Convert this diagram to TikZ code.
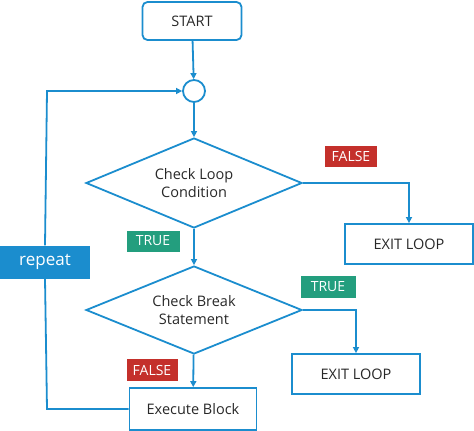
\documentclass[tikz,border=0pt]{standalone}
\usepackage{fontspec}
\setmainfont{Open Sans}
\usetikzlibrary{positioning, shapes.geometric, arrows, arrows.meta}

\definecolor{flowblue}{RGB}{27,141,206}
\definecolor{falsered}{RGB}{196,48,43}
\definecolor{truegreen}{RGB}{35,158,126}
\definecolor{textgray}{RGB}{40,40,40}

\tikzset{
    box/.style = {draw=flowblue, line width=1.8pt, text=textgray, font=\fontsize{14.5}{17.5}\selectfont, inner sep=0pt},
    decision/.style = {box, diamond, aspect=2.4, minimum width=216pt, minimum height=90pt, align=center},
    flag/.style = {text=white, inner sep=0pt, font=\fontsize{14}{16}\selectfont},
    line/.style = {draw=flowblue, line width=1.8pt},
}

\begin{document}
\begin{tikzpicture}[x=1pt, y=-1pt, >={Triangle[length=6pt, width=6pt]}]
    \useasboundingbox (0,0) rectangle (474,431);
    \node [box, rounded corners=5pt, minimum width=99pt, minimum height=38pt] (start) at (192,21) {START};
    \node [box, circle, minimum size=22pt] (join) at (194,91) {};
    \node [decision] (loopcond) at (194,183) {Check Loop\\Condition};
    \node [decision, minimum height=88pt] (breakcond) at (194,310) {Check Break\\Statement};
    \node [box, minimum width=128pt, minimum height=40pt] (exitA) at (409,244) {EXIT LOOP};
    \node [box, minimum width=128pt, minimum height=40pt] (exitB) at (356,374) {EXIT LOOP};
    \node [box, minimum width=127pt, minimum height=42pt] (exec) at (193,409) {Execute Block};
    \coordinate (backtop) at (47,91);
    \coordinate (backbot) at (47,409);
    \node [flag, fill=flowblue, minimum width=90pt, minimum height=33pt, font=\fontsize{17}{20}\selectfont] (repeat) at (45,262) {repeat};
    \node [flag, fill=falsered, minimum width=52pt, minimum height=21pt] (falseA) at (351,156) {FALSE};
    \node [flag, fill=truegreen, minimum width=53pt, minimum height=21pt] (trueA) at (153,241) {TRUE};
    \node [flag, fill=truegreen, minimum width=55pt, minimum height=22pt] (trueB) at (328,287) {TRUE};
    \node [flag, fill=falsered, minimum width=51pt, minimum height=22pt] (falseB) at (152,370) {FALSE};
    \draw [line, ->] (start) -- (join);
    \draw [line, ->] (join) -- (loopcond);
    \draw [line, ->] (loopcond.east) -| (exitA.north);
    \draw [line, ->] (loopcond) -- (breakcond);
    \draw [line, ->] (breakcond.east) -| (exitB.north);
    \draw [line, ->] (breakcond) -- (exec);
    \draw [line] (exec.west) -- (backbot) -- (repeat.south);
    \draw [line, ->] (repeat.north) -- (backtop) -- (join.west);
\end{tikzpicture}
\end{document}
